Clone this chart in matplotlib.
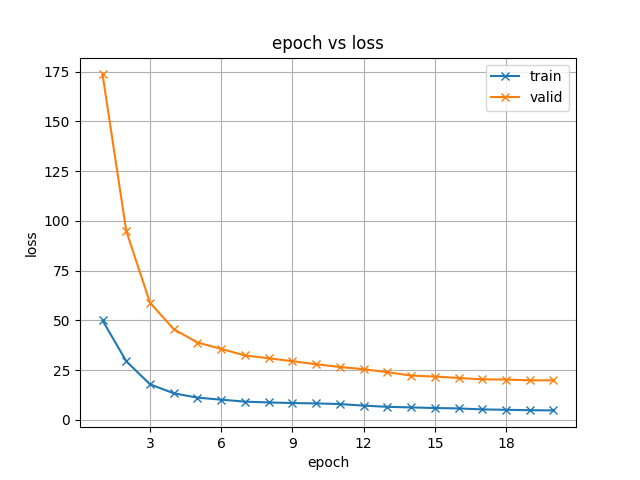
import matplotlib
matplotlib.use('Agg')
import matplotlib.pyplot as plt
from matplotlib.ticker import MaxNLocator

epochs = list(range(1, 21))
train_loss = [50.0, 29.5, 17.9, 13.4, 11.2, 10.2, 9.2, 8.8, 8.5, 8.3,
              8.0, 7.2, 6.6, 6.3, 6.0, 5.8, 5.3, 5.1, 4.9, 4.8]
valid_loss = [173.6, 94.9, 58.9, 45.6, 38.9, 35.7, 32.4, 31.0, 29.5, 28.0,
              26.6, 25.5, 24.0, 22.3, 21.8, 21.1, 20.4, 20.3, 19.9, 19.9]


def main():
    fig, ax = plt.subplots(figsize=(6.4, 4.8), dpi=100)
    ax.plot(epochs, train_loss, marker='x', label='train')
    ax.plot(epochs, valid_loss, marker='x', label='valid')
    ax.xaxis.set_major_locator(MaxNLocator(integer=True))
    ax.set_xlabel('epoch')
    ax.set_ylabel('loss')
    ax.set_title('epoch vs loss')
    ax.grid(True)
    ax.legend()
    fig.savefig('out.png')


if __name__ == '__main__':
    main()
